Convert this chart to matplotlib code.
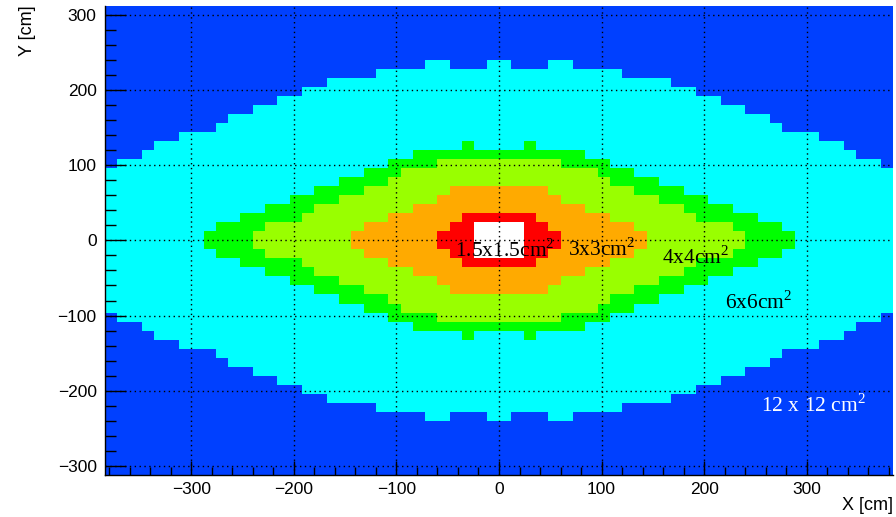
import numpy as np
import matplotlib
matplotlib.use("Agg")
import matplotlib.pyplot as plt
from matplotlib.colors import ListedColormap, BoundaryNorm
from matplotlib import ticker

plt.rcParams["mathtext.fontset"] = "custom"
plt.rcParams["mathtext.rm"] = "Liberation Serif"

# cell size of the map [cm] and half extents of the plane
cell = 12
x_half = 384
y_half = 312

# half-heights [cm] of each zone, one value per 12 cm column from x=0 outwards
# (the map is symmetric in x and y)
cyan_h = [240, 228, 228, 228, 240, 240, 228, 228, 228, 228, 216, 216, 216, 216, 204, 204,
          192, 192, 180, 180, 168, 168, 156, 144, 144, 144, 132, 132, 120, 108, 108, 96]
green_h = [120, 120, 132, 120, 120, 120, 120, 108, 108, 96, 96, 84, 84, 72, 72, 60,
           60, 48, 48, 36, 36, 24, 24, 12, 0, 0, 0, 0, 0, 0, 0, 0]
lime_h = [108, 108, 108, 108, 108, 96, 96, 96, 84, 72, 72, 60, 60, 48, 48, 36,
          24, 24, 24, 12, 0, 0, 0, 0, 0, 0, 0, 0, 0, 0, 0, 0]
orange_h = [72, 72, 72, 72, 60, 48, 48, 36, 36, 24, 24, 12, 0, 0, 0, 0,
            0, 0, 0, 0, 0, 0, 0, 0, 0, 0, 0, 0, 0, 0, 0, 0]
red_h = [36, 36, 36, 24, 12, 0, 0, 0, 0, 0, 0, 0, 0, 0, 0, 0,
         0, 0, 0, 0, 0, 0, 0, 0, 0, 0, 0, 0, 0, 0, 0, 0]
white_h = [24, 24, 0, 0, 0, 0, 0, 0, 0, 0, 0, 0, 0, 0, 0, 0,
           0, 0, 0, 0, 0, 0, 0, 0, 0, 0, 0, 0, 0, 0, 0, 0]

zone_colors = ["#0040ff", "#00ffff", "#00ff00", "#99ff00", "#ffaa00", "#ff0000", "#ffffff"]

labels = [r"1.5x1.5cm$^{2}$", r"3x3cm$^{2}$", r"4x4cm$^{2}$", r"6x6cm$^{2}$", r"12 x 12 cm$^{2}$"]
label_x = [-43, 67, 159, 220, 255]
label_y = [-21.5, -20.5, -31.5, -91, -227.5]
label_col = ["black", "black", "black", "black", "white"]

# build the zone map
xe = np.arange(-x_half, x_half + cell, cell)
ye = np.arange(-y_half, y_half + cell, cell)
xc = 0.5 * (xe[:-1] + xe[1:])
yc = 0.5 * (ye[:-1] + ye[1:])
col = (np.abs(xc) // cell).astype(int)

zones = np.zeros((len(yc), len(xc)))
for h in [cyan_h, green_h, lime_h, orange_h, red_h, white_h]:
    hh = np.array(h)[col]
    zones += (np.abs(yc)[:, None] < hh[None, :])

fig = plt.figure(figsize=(8.96, 5.17), dpi=100)
ax = fig.add_axes([105/896, 1-475/517, 788/896, (475-5.7)/517])

cmap = ListedColormap(zone_colors)
norm = BoundaryNorm(np.arange(-0.5, 7.5, 1), cmap.N)
ax.pcolormesh(xe, ye, zones, cmap=cmap, norm=norm, zorder=0)

ax.set_xlim(-x_half, x_half)
ax.set_ylim(-y_half, y_half)

ax.xaxis.set_major_locator(ticker.MultipleLocator(100))
ax.xaxis.set_minor_locator(ticker.MultipleLocator(20))
ax.yaxis.set_major_locator(ticker.MultipleLocator(100))
ax.yaxis.set_minor_locator(ticker.MultipleLocator(20))
ax.grid(True, which="major", color="black", linestyle=(0, (1, 2.5)), linewidth=1.0, zorder=2)
ax.set_axisbelow(False)

for s in ["top", "right"]:
    ax.spines[s].set_visible(False)
for s in ["left", "bottom"]:
    ax.spines[s].set_linewidth(1.0)

ax.tick_params(axis="x", which="major", direction="in", length=10, width=1, labelsize=12.5, pad=5)
ax.tick_params(axis="x", which="minor", direction="in", length=5.5, width=1)
ax.tick_params(axis="y", which="major", direction="in", length=15, width=1, labelsize=12.5, pad=6)
ax.tick_params(axis="y", which="minor", direction="in", length=8, width=1)
for lab in ax.get_xticklabels() + ax.get_yticklabels():
    lab.set_family("Liberation Sans")

for t, x, y, c in zip(labels, label_x, label_y, label_col):
    ax.text(x, y, t, color=c, fontsize=15.5, family="Liberation Serif", ha="left", va="baseline", zorder=3)

fig.text(893/896, 1-505/517, "X [cm]", ha="right", va="center", fontsize=13, family="Liberation Sans")
fig.text(28/896, 1-5/517, "Y [cm]", ha="center", va="top", rotation=90, fontsize=13, family="Liberation Sans")

fig.savefig("out.png", dpi=100)
